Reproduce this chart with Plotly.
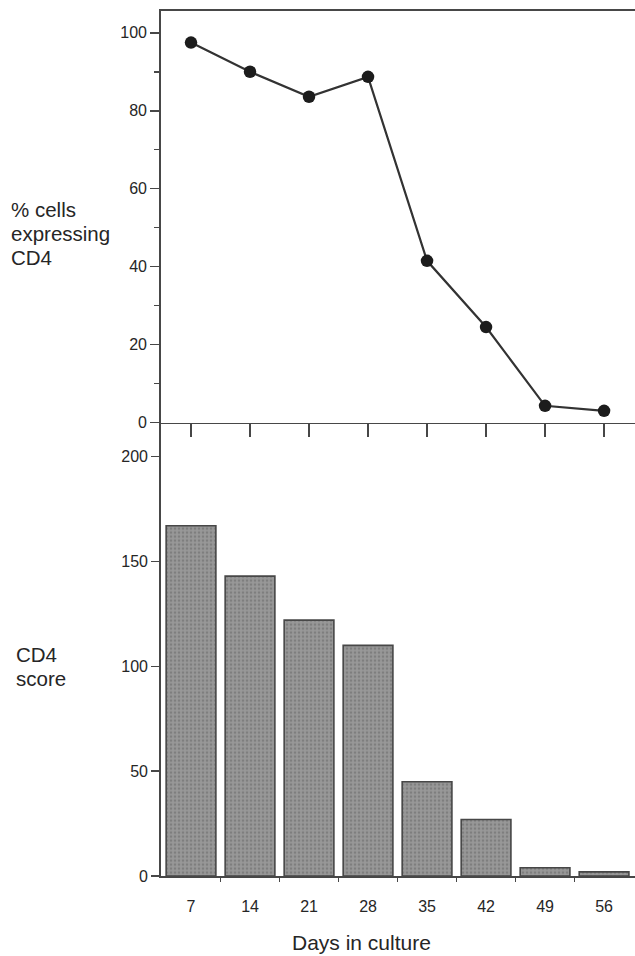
import plotly.graph_objects as go

days = [7, 14, 21, 28, 35, 42, 49, 56]
pct_cd4 = [97.5, 90, 83.6, 88.7, 41.5, 24.5, 4.3, 3.0]
cd4_score = [167, 143, 122, 110, 45, 27, 4, 2]
day_labels = [str(d) for d in days]

W, H = 635, 956
FIG_H = 964
def px(p):
    return p / W
def py(p):
    return 1 - p / H

ink = "#262626"
axc = "#474747"

fig = go.Figure()

fig.add_trace(go.Scatter(
    x=days, y=pct_cd4, mode="lines+markers",
    line=dict(color="#333333", width=2.2),
    marker=dict(size=12.5, color="#1c1c1c"),
    xaxis="x", yaxis="y", showlegend=False, hoverinfo="skip",
))

fig.add_trace(go.Bar(
    x=days, y=cd4_score, width=5.9,
    marker=dict(
        color="#8f8f8f",
        line=dict(color="#474747", width=1.6),
        pattern=dict(shape=".", bgcolor="#989898", fgcolor="#646464", size=4, solidity=0.35),
    ),
    xaxis="x2", yaxis="y2", showlegend=False, hoverinfo="skip",
))

xr = [3.44, 59.67]
font_tick = dict(family="Liberation Sans, Arial, sans-serif", size=16, color=ink)

fig.update_layout(
    width=W, height=FIG_H,
    margin=dict(l=0, r=0, t=0, b=0),
    paper_bgcolor="white", plot_bgcolor="white",
    font=dict(family="Liberation Sans, Arial, sans-serif", color=ink),
    hovermode=False,
    xaxis=dict(
        domain=[px(161), 1], range=xr, anchor="y",
        showline=True, linecolor=axc, linewidth=1.8, mirror=True,
        tickmode="array", tickvals=days, showticklabels=False,
        ticks="outside", ticklen=13, tickwidth=2, tickcolor=axc,
        showgrid=False, zeroline=False,
    ),
    yaxis=dict(
        domain=[py(423), py(11)], range=[0, 105.6], anchor="x",
        showline=True, linecolor=axc, linewidth=1.8,
        tickmode="array", tickvals=[0, 20, 40, 60, 80, 100],
        ticks="outside", ticklen=9, tickwidth=1.5, tickcolor=axc,
        minor=dict(tickvals=[10, 30, 50, 70, 90], ticks="outside", ticklen=5, tickwidth=1.5, tickcolor=axc),
        tickfont=font_tick, showgrid=False, zeroline=False,
    ),
    xaxis2=dict(
        domain=[px(161), 1], range=xr, anchor="y2",
        showline=True, linecolor=axc, linewidth=1.8,
        tickmode="array", tickvals=days, ticktext=day_labels,
        ticks="", ticklabelstandoff=15, tickfont=font_tick,
        minor=dict(tickvals=[10.5, 17.5, 24.5, 31.5, 38.5, 45.5, 52.5], ticks="outside",
                   ticklen=4, tickwidth=1.5, tickcolor=axc),
        showgrid=False, zeroline=False,
    ),
    yaxis2=dict(
        domain=[py(877), py(423)], range=[0, 216.2], anchor="x2",
        showline=True, linecolor=axc, linewidth=1.8,
        tickmode="array", tickvals=[0, 50, 100, 150, 200],
        ticks="outside", ticklen=8, tickwidth=1.5, tickcolor=axc,
        tickfont=font_tick, showgrid=False, zeroline=False,
    ),
)

lab_font = dict(family="Liberation Sans, Arial, sans-serif", size=20.5, color=ink)
labels = [
    ("% cells", 9, 210),
    ("expressing", 9, 234),
    ("CD4", 9, 258),
    ("CD4", 14, 655),
    ("score", 14, 679),
]
for txt, x, y in labels:
    fig.add_annotation(text=txt, xref="paper", yref="paper", x=px(x), y=py(y),
                       xanchor="left", yanchor="middle", showarrow=False, font=lab_font)

fig.add_annotation(text="Days in culture", xref="paper", yref="paper", x=px(361), y=py(943),
                   xanchor="center", yanchor="middle", showarrow=False,
                   font=dict(family="Liberation Sans, Arial, sans-serif", size=21, color=ink))

fig.write_html(
    "out.html",
    config={"displayModeBar": False, "staticPlot": True},
    post_script="document.documentElement.style.margin='0';document.body.style.margin='0';"
                "document.body.style.overflow='hidden';",
)
